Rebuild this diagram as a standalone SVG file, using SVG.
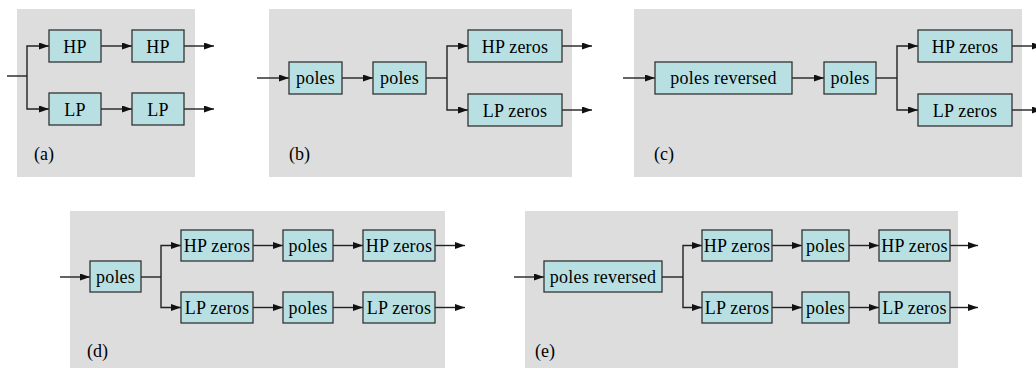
<svg xmlns="http://www.w3.org/2000/svg" width="1036" height="368" viewBox="0 0 1036 368">
<defs>
<marker id="ah" markerUnits="userSpaceOnUse" markerWidth="11" markerHeight="8" refX="10" refY="3.5" orient="auto">
<path d="M0,0 L10,3.5 L0,7 z" fill="#111"/>
</marker>
<style>
.bg{fill:#dddddd}
.box{fill:#b8e0e3;stroke:#333;stroke-width:1.3}
.t{font-family:"Liberation Serif","Times New Roman",serif;font-size:18px;letter-spacing:0.2px;fill:#000;text-anchor:middle}
.lbl{font-family:"Liberation Serif","Times New Roman",serif;font-size:18px;fill:#000}
.c path{fill:none;stroke:#222;stroke-width:1.4}
.c path.a{marker-end:url(#ah)}
</style>
</defs>
<g id="panels">
<rect class="bg" x="17" y="9" width="178" height="168"/>
<rect class="bg" x="269" y="9" width="303" height="168"/>
<rect class="bg" x="634" y="9" width="388" height="168"/>
<rect class="bg" x="70" y="211" width="375" height="157"/>
<rect class="bg" x="525" y="211" width="433" height="157"/>
<text class="lbl" x="34" y="160">(a)</text>
<text class="lbl" x="289" y="160">(b)</text>
<text class="lbl" x="654" y="160">(c)</text>
<text class="lbl" x="87" y="357">(d)</text>
<text class="lbl" x="535" y="357">(e)</text>
</g>
<g class="c" id="connectors">
<!-- a -->
<path d="M7,76 H27"/>
<path class="a" d="M27,76 V46 H49"/>
<path class="a" d="M27,76 V109 H49"/>
<path class="a" d="M101,46 H132"/>
<path class="a" d="M101,109 H132"/>
<path class="a" d="M184,46 H214"/>
<path class="a" d="M184,109 H214"/>
<!-- b -->
<path class="a" d="M257,78 H289"/>
<path class="a" d="M342,78 H373"/>
<path d="M426,78 H447"/>
<path class="a" d="M447,78 V46 H468"/>
<path class="a" d="M447,78 V110 H468"/>
<path class="a" d="M562,46 H592"/>
<path class="a" d="M562,110 H592"/>
<!-- c -->
<path class="a" d="M623,78 H655"/>
<path class="a" d="M792,78 H824"/>
<path d="M876,78 H897"/>
<path class="a" d="M897,78 V46 H918"/>
<path class="a" d="M897,78 V110 H918"/>
<path class="a" d="M1012,46 H1042"/>
<path class="a" d="M1012,110 H1042"/>
<!-- d -->
<path class="a" d="M60,277 H90"/>
<path d="M141,277 H161"/>
<path class="a" d="M161,277 V245.5 H181"/>
<path class="a" d="M161,277 V307.5 H181"/>
<path class="a" d="M253,245.5 H283"/>
<path class="a" d="M333,245.5 H363"/>
<path class="a" d="M435,245.5 H465"/>
<path class="a" d="M253,307.5 H283"/>
<path class="a" d="M333,307.5 H363"/>
<path class="a" d="M435,307.5 H465"/>
<!-- e -->
<path class="a" d="M514,277 H544"/>
<path d="M662,277 H683"/>
<path class="a" d="M683,277 V245.5 H702"/>
<path class="a" d="M683,277 V307.5 H702"/>
<path class="a" d="M772,245.5 H802"/>
<path class="a" d="M849,245.5 H879"/>
<path class="a" d="M950,245.5 H978"/>
<path class="a" d="M772,307.5 H802"/>
<path class="a" d="M849,307.5 H879"/>
<path class="a" d="M950,307.5 H978"/>
</g>
<g id="a-hp1"><rect class="box" x="49" y="30" width="52" height="32"/><text class="t" x="75" y="52.5">HP</text></g>
<g id="a-hp2"><rect class="box" x="132" y="30" width="52" height="32"/><text class="t" x="158" y="52.5">HP</text></g>
<g id="a-lp1"><rect class="box" x="49" y="93" width="52" height="32"/><text class="t" x="75" y="115.5">LP</text></g>
<g id="a-lp2"><rect class="box" x="132" y="93" width="52" height="32"/><text class="t" x="158" y="115.5">LP</text></g>

<g id="b-poles1"><rect class="box" x="289" y="62" width="53" height="32"/><text class="t" x="315.5" y="84">poles</text></g>
<g id="b-poles2"><rect class="box" x="373" y="62" width="53" height="32"/><text class="t" x="399.5" y="84">poles</text></g>
<g id="b-hpz"><rect class="box" x="468" y="30" width="94" height="32"/><text class="t" x="515" y="52.5">HP zeros</text></g>
<g id="b-lpz"><rect class="box" x="468" y="94" width="94" height="32"/><text class="t" x="515" y="116.5">LP zeros</text></g>

<g id="c-polesrev"><rect class="box" x="655" y="62" width="137" height="32"/><text class="t" x="723.5" y="84">poles reversed</text></g>
<g id="c-poles"><rect class="box" x="824" y="62" width="52" height="32"/><text class="t" x="850" y="84">poles</text></g>
<g id="c-hpz"><rect class="box" x="918" y="30" width="94" height="32"/><text class="t" x="965" y="52.5">HP zeros</text></g>
<g id="c-lpz"><rect class="box" x="918" y="94" width="94" height="32"/><text class="t" x="965" y="116.5">LP zeros</text></g>

<g id="d-poles"><rect class="box" x="90" y="261" width="51" height="31"/><text class="t" x="115.5" y="282.5">poles</text></g>
<g id="d-hpz1"><rect class="box" x="181" y="230" width="72" height="31"/><text class="t" x="217" y="252">HP zeros</text></g>
<g id="d-poles-top"><rect class="box" x="283" y="230" width="50" height="31"/><text class="t" x="308" y="251.5">poles</text></g>
<g id="d-hpz2"><rect class="box" x="363" y="230" width="72" height="31"/><text class="t" x="399" y="252">HP zeros</text></g>
<g id="d-lpz1"><rect class="box" x="181" y="292" width="72" height="31"/><text class="t" x="217" y="314">LP zeros</text></g>
<g id="d-poles-bot"><rect class="box" x="283" y="292" width="50" height="31"/><text class="t" x="308" y="313.5">poles</text></g>
<g id="d-lpz2"><rect class="box" x="363" y="292" width="72" height="31"/><text class="t" x="399" y="314">LP zeros</text></g>

<g id="e-polesrev"><rect class="box" x="544" y="261" width="118" height="31"/><text class="t" x="603" y="282.5">poles reversed</text></g>
<g id="e-hpz1"><rect class="box" x="702" y="230" width="70" height="31"/><text class="t" x="737" y="252">HP zeros</text></g>
<g id="e-poles-top"><rect class="box" x="802" y="230" width="47" height="31"/><text class="t" x="825.5" y="251.5">poles</text></g>
<g id="e-hpz2"><rect class="box" x="879" y="230" width="71" height="31"/><text class="t" x="914.5" y="252">HP zeros</text></g>
<g id="e-lpz1"><rect class="box" x="702" y="292" width="70" height="31"/><text class="t" x="737" y="314">LP zeros</text></g>
<g id="e-poles-bot"><rect class="box" x="802" y="292" width="47" height="31"/><text class="t" x="825.5" y="313.5">poles</text></g>
<g id="e-lpz2"><rect class="box" x="879" y="292" width="71" height="31"/><text class="t" x="914.5" y="314">LP zeros</text></g>
</svg>
